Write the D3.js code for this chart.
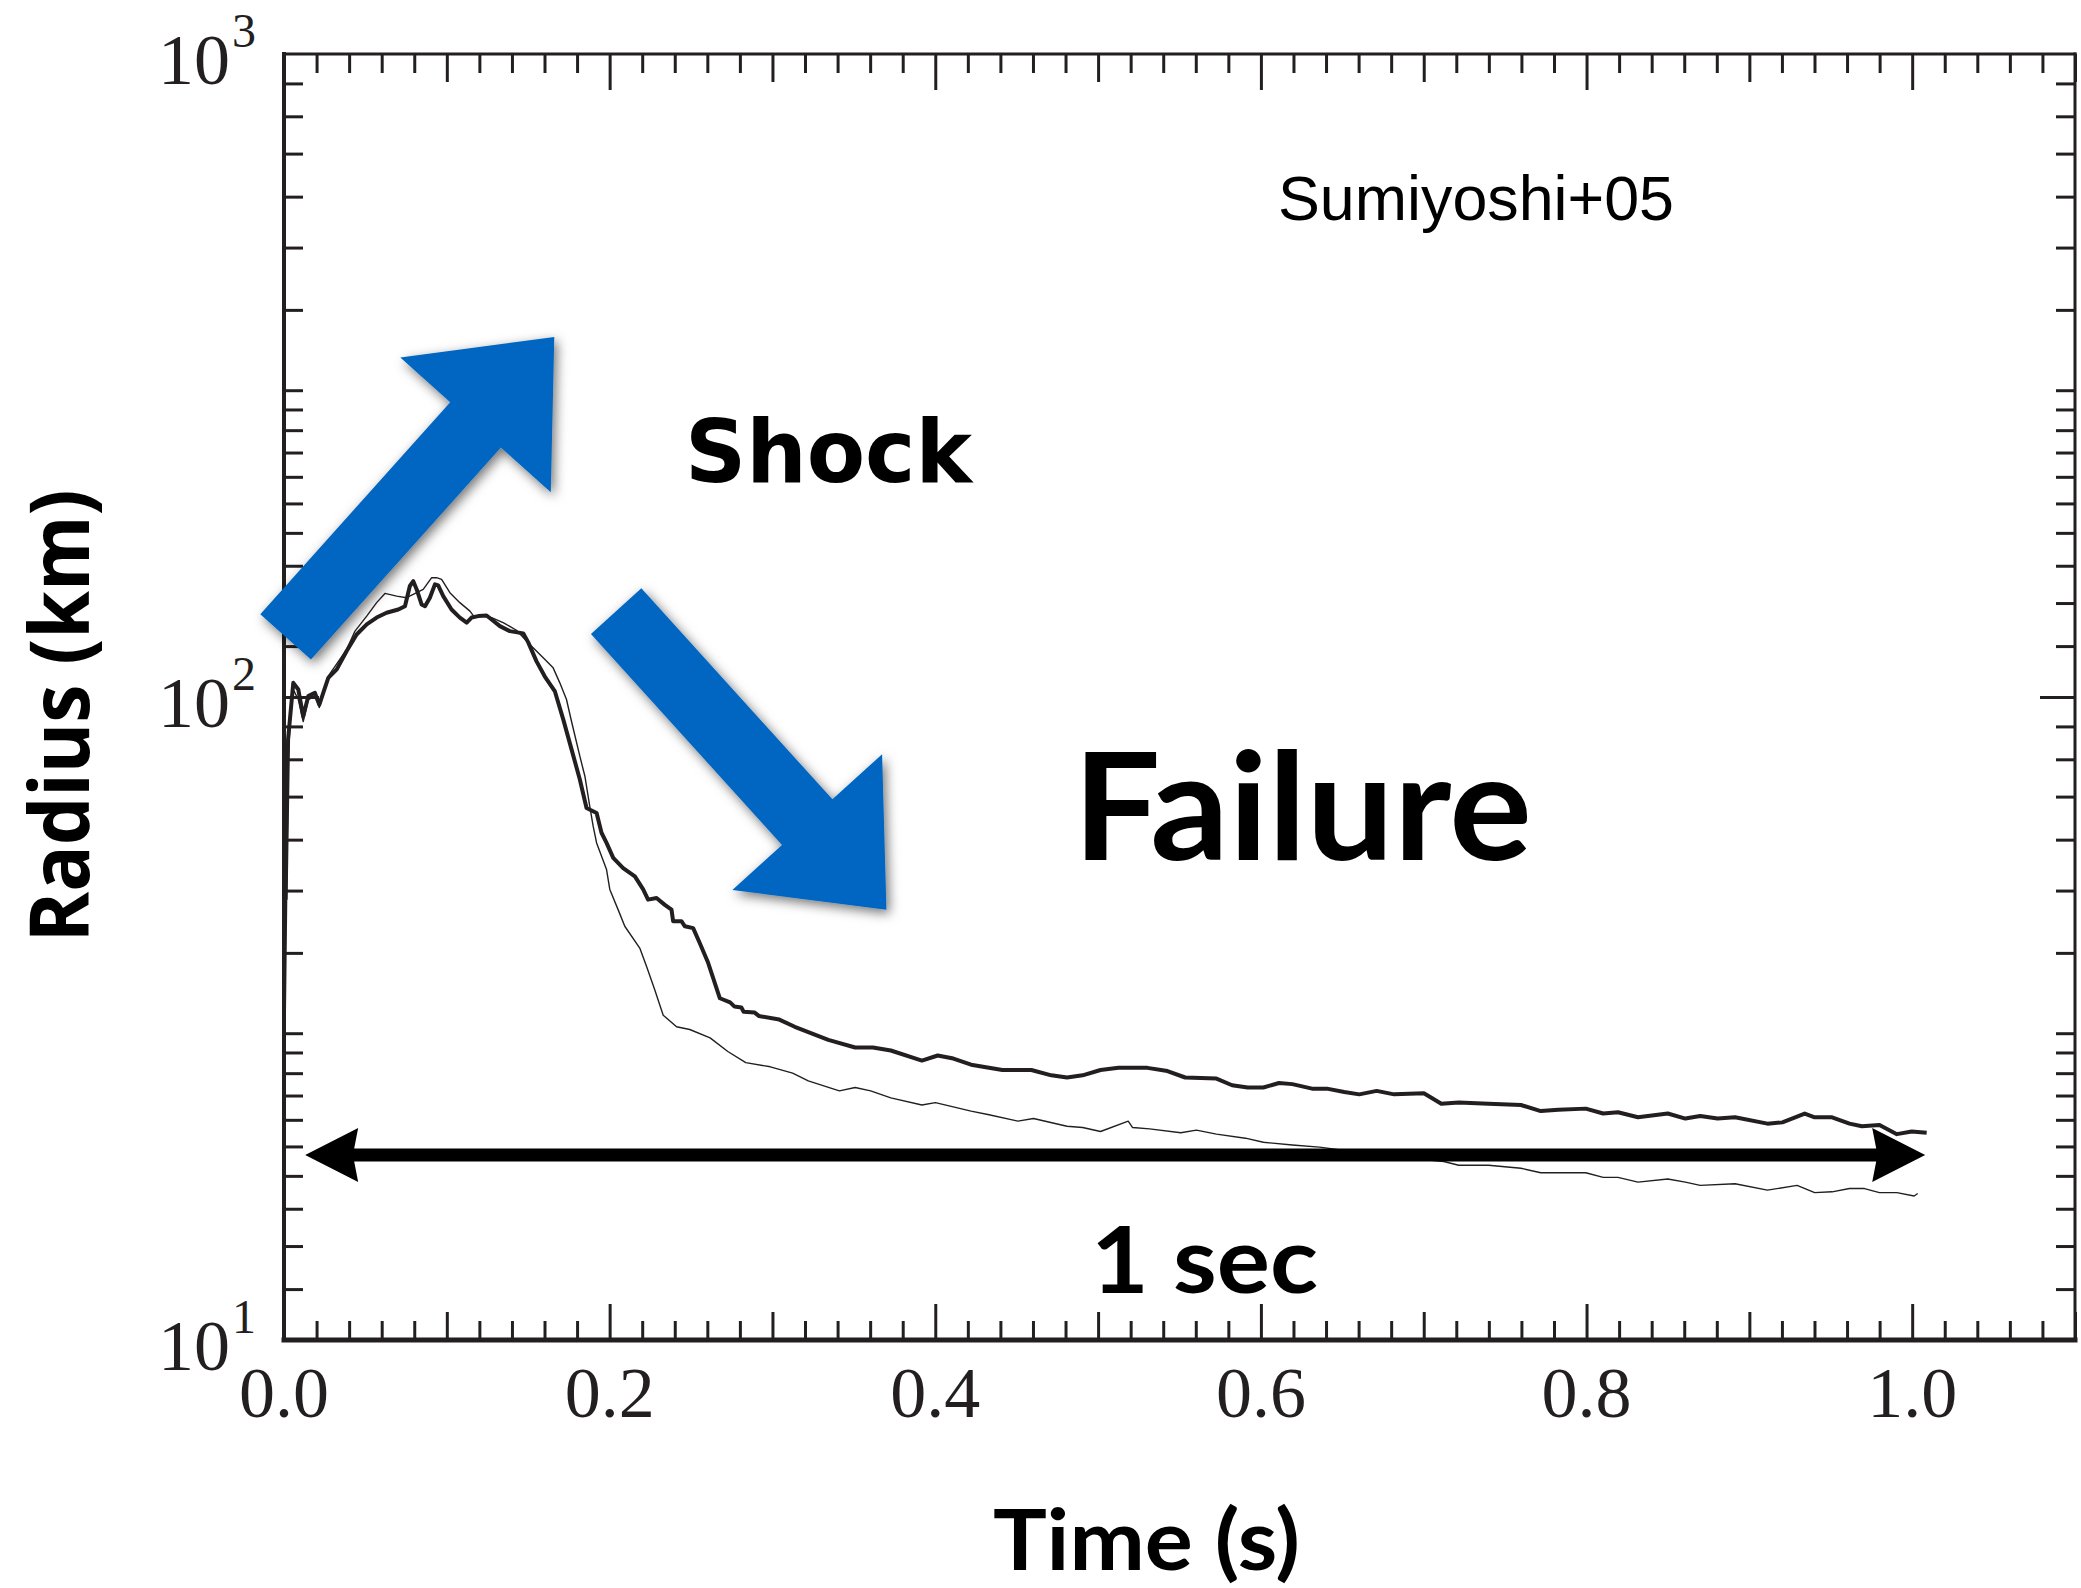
<!DOCTYPE html>
<html>
<head>
<meta charset="utf-8">
<script src="https://cdn.jsdelivr.net/npm/d3@7"></script>
<style>
  html, body { margin: 0; padding: 0; background: #fff; }
  svg { display: block; }
</style>
</head>
<body>
<svg id="chart" width="2081" height="1588"></svg>
<script>
// [time (s), radius (km)]
const thickSeries = [
  [0.001,48.4],[0.0025,85.9],[0.0057,105.2],[0.0088,102.7],[0.0118,93.3],[0.0149,100.3],[0.019,101.5],
  [0.0217,97.3],[0.0241,101.5],[0.0272,107.1],[0.0324,110.4],[0.0385,117.9],[0.0446,125.1],[0.0508,129.7],
  [0.0569,132.9],[0.063,135.2],[0.0702,136.8],[0.0743,138.4],[0.0773,148.8],[0.0794,151.4],[0.0815,147.0],
  [0.0845,139.3],[0.0866,138.4],[0.0896,142.7],[0.0927,149.7],[0.0947,149.1],[0.0978,143.5],[0.1029,136.8],
  [0.108,132.9],[0.1122,130.5],[0.1152,132.9],[0.1193,133.6],[0.1244,133.9],[0.1275,132.0],[0.1326,128.9],
  [0.1387,126.6],[0.1469,125.6],[0.15,121.6],[0.1551,113.6],[0.1602,107.6],[0.1664,102.0],[0.1715,92.3],
  [0.1766,82.9],[0.1817,74.4],[0.1858,67.2],[0.192,66.0],[0.195,61.5],[0.1981,59.3],[0.2022,56.2],
  [0.2083,54.2],[0.2155,52.6],[0.2206,50.2],[0.2236,48.4],[0.2288,48.7],[0.2339,47.5],[0.238,46.7],
  [0.239,44.8],[0.2441,44.8],[0.2462,44.0],[0.2513,43.7],[0.2554,41.4],[0.2605,38.6],[0.2677,34.0],
  [0.274,33.5],[0.2767,33.0],[0.2809,32.9],[0.2823,32.4],[0.2891,32.3],[0.2918,31.9],[0.3042,31.5],
  [0.3137,30.7],[0.3343,29.3],[0.3508,28.5],[0.3617,28.5],[0.3727,28.2],[0.3918,27.2],[0.4015,27.7],
  [0.4111,27.4],[0.422,26.8],[0.4412,26.3],[0.459,26.3],[0.4713,25.8],[0.4809,25.6],[0.4905,25.8],
  [0.5015,26.3],[0.5125,26.5],[0.5303,26.5],[0.5426,26.2],[0.5535,25.6],[0.5727,25.5],[0.5823,24.9],
  [0.5919,24.7],[0.6015,24.7],[0.6111,25.1],[0.6193,25.0],[0.6314,24.6],[0.6405,24.6],[0.6512,24.3],
  [0.6604,24.1],[0.6711,24.4],[0.6818,24.1],[0.7001,24.2],[0.7108,23.3],[0.7215,23.4],[0.7398,23.3],
  [0.7597,23.2],[0.7719,22.7],[0.7827,22.8],[0.7995,22.9],[0.8102,22.5],[0.8193,22.6],[0.8316,22.2],
  [0.8499,22.5],[0.8607,22.1],[0.8698,22.3],[0.8805,22.1],[0.8912,22.2],[0.9111,21.7],[0.9203,21.8],
  [0.934,22.5],[0.9401,22.2],[0.9508,22.2],[0.9615,21.7],[0.9691,21.5],[0.9799,21.6],[0.9906,20.9],
  [0.9997,21.1],[1.0089,21.0]
];

const thinSeries = [
  [0.0006,29.3],[0.0026,80.0],[0.004,94.0],[0.0057,102.7],[0.0088,99.1],[0.0118,91.6],[0.0149,99.1],
  [0.019,100.2],[0.0217,96.3],[0.0241,100.9],[0.0272,107.8],[0.0385,118.6],[0.0436,126.6],[0.0508,133.6],
  [0.0569,140.2],[0.062,144.9],[0.0692,143.5],[0.0753,142.7],[0.0815,145.3],[0.0855,147.0],[0.0907,153.3],
  [0.0937,153.3],[0.0968,152.4],[0.1019,145.3],[0.108,140.2],[0.1142,136.0],[0.1172,132.9],[0.1223,133.6],
  [0.1275,132.9],[0.1346,130.5],[0.1428,127.0],[0.151,120.7],[0.1592,115.1],[0.1653,111.0],[0.1694,105.2],
  [0.1735,99.1],[0.1766,91.6],[0.1817,80.9],[0.1848,75.3],[0.1878,67.6],[0.1899,62.9],[0.192,59.3],
  [0.1981,53.9],[0.2001,50.2],[0.2052,46.7],[0.2093,44.0],[0.2185,40.7],[0.2227,38.1],[0.2278,35.0],
  [0.2329,32.0],[0.2411,30.7],[0.2492,30.4],[0.2617,29.5],[0.2726,28.1],[0.2836,27.0],[0.2987,26.6],
  [0.3124,26.0],[0.322,25.3],[0.3411,24.4],[0.3508,24.7],[0.3603,24.4],[0.3727,23.8],[0.3918,23.2],
  [0.4001,23.4],[0.422,22.7],[0.433,22.4],[0.4508,21.9],[0.4603,22.1],[0.4809,21.5],[0.4905,21.4],
  [0.5015,21.1],[0.5185,21.9],[0.5212,21.4],[0.5316,21.3],[0.5508,21.0],[0.5604,21.2],[0.5727,20.9],
  [0.5905,20.6],[0.6015,20.3],[0.6193,20.1],[0.6359,19.95],[0.6728,19.4],[0.7123,18.95],[0.7215,18.7],
  [0.7398,18.7],[0.7597,18.5],[0.7719,18.2],[0.7827,18.2],[0.7995,18.2],[0.8102,17.9],[0.8193,17.9],
  [0.8316,17.6],[0.8499,17.8],[0.8607,17.6],[0.8698,17.4],[0.8912,17.5],[0.9111,17.1],[0.9293,17.4],
  [0.9401,16.95],[0.9508,17.0],[0.9615,17.2],[0.9707,17.2],[0.9799,16.95],[0.9906,16.95],[1.0012,16.75],
  [1.0034,16.9]
];

// axis ticks
const xLabelValues = [0, 0.2, 0.4, 0.6, 0.8, 1.0];
const xLabels = ["0.0", "0.2", "0.4", "0.6", "0.8", "1.0"];
const xMidTicks = [0.1, 0.3, 0.5, 0.7, 0.9, 1.1];
const yDecades = [10, 100, 1000];
const yExponents = ["1", "2", "3"];
const yMinorTicks = [12, 14, 16, 18, 20, 22, 24, 26, 28, 30, 40, 50, 60, 70, 80, 90,
  120, 140, 160, 180, 200, 220, 240, 260, 280, 300, 400, 500, 600, 700, 800, 900];

// annotation arrows, ends given as [time, radius]
const shockArrow = [[0.001, 124], [0.166, 363]];
const failureArrow = [[0.204, 136], [0.370, 46.7]];
const oneSecArrow = [[0.013, 19.4], [1.008, 19.4]];

const ink = "#231f20";
const blue = "#0266c1";

const svg = d3.select("#chart");
const plotLeft = 284, plotRight = 2075, plotTop = 54, plotBottom = 1340;

const x = d3.scaleLinear().domain([0, 1.1]).range([plotLeft, plotRight]);
const y = d3.scaleLog().domain([10, 1000]).range([plotBottom, plotTop]);

const defs = svg.append("defs");
defs.append("filter").attr("id", "shadow")
    .attr("x", "-20%").attr("y", "-20%").attr("width", "140%").attr("height", "140%")
  .append("feDropShadow")
    .attr("dx", 3).attr("dy", 4).attr("stdDeviation", 6)
    .attr("flood-color", "#000").attr("flood-opacity", 0.55);

// minor x ticks every 0.02 (skip the ones that get longer ticks)
const xMinorTicks = d3.range(1, 56).map(i => +(i * 0.02).toFixed(2))
    .filter(v => Math.abs(v * 10 - Math.round(v * 10)) > 1e-6);

function ticks(axisFn, scale, values, size, transform) {
  svg.append("g")
      .attr("transform", transform)
      .call(axisFn(scale).tickValues(values).tickSize(size).tickSizeOuter(0).tickFormat(""))
      .call(g => g.select(".domain").remove())
      .selectAll("line")
      .attr("stroke", ink)
      .attr("stroke-width", 3);
}

// bottom / top ticks point inward
ticks(d3.axisBottom, x, xMinorTicks, -19, `translate(0,${plotBottom})`);
ticks(d3.axisBottom, x, xMidTicks, -28, `translate(0,${plotBottom})`);
ticks(d3.axisBottom, x, xLabelValues, -36, `translate(0,${plotBottom})`);
ticks(d3.axisTop, x, xMinorTicks, -19, `translate(0,${plotTop})`);
ticks(d3.axisTop, x, xMidTicks, -28, `translate(0,${plotTop})`);
ticks(d3.axisTop, x, xLabelValues, -36, `translate(0,${plotTop})`);

// left / right ticks
ticks(d3.axisLeft, y, yMinorTicks, -19, `translate(${plotLeft},0)`);
ticks(d3.axisLeft, y, [100], -35, `translate(${plotLeft},0)`);
ticks(d3.axisRight, y, yMinorTicks, -19, `translate(${plotRight},0)`);
ticks(d3.axisRight, y, [100], -35, `translate(${plotRight},0)`);

// frame
const frame = svg.append("g").attr("stroke", ink).attr("stroke-linecap", "square");
frame.append("line").attr("x1", plotLeft).attr("x2", plotRight).attr("y1", plotTop).attr("y2", plotTop).attr("stroke-width", 3);
frame.append("line").attr("x1", plotRight).attr("x2", plotRight).attr("y1", plotTop).attr("y2", plotBottom).attr("stroke-width", 3);
frame.append("line").attr("x1", plotLeft).attr("x2", plotLeft).attr("y1", plotTop).attr("y2", plotBottom).attr("stroke-width", 4);
frame.append("line").attr("x1", plotLeft).attr("x2", plotRight).attr("y1", plotBottom).attr("y2", plotBottom).attr("stroke-width", 5);

// tick labels
svg.append("g").selectAll("text").data(xLabelValues).join("text")
    .attr("x", d => x(d))
    .attr("y", 1417)
    .attr("text-anchor", "middle")
    .attr("font-family", "'Liberation Serif', 'Times New Roman', serif")
    .attr("font-size", 72)
    .attr("fill", ink)
    .text((d, i) => xLabels[i]);

const yl = svg.append("g").attr("font-family", "'Liberation Serif', 'Times New Roman', serif").attr("fill", ink);
yl.selectAll("text.base").data(yDecades).join("text")
    .attr("class", "base")
    .attr("x", 230)
    .attr("y", d => y(d) + 30)
    .attr("text-anchor", "end")
    .attr("font-size", 72)
    .text("10");
yl.selectAll("text.exp").data(yDecades).join("text")
    .attr("class", "exp")
    .attr("x", 232)
    .attr("y", d => y(d) - 7)
    .attr("font-size", 48)
    .text((d, i) => yExponents[i]);

// curves
const line = d3.line().x(d => x(d[0])).y(d => y(d[1]));
svg.append("path").datum(thinSeries)
    .attr("d", line).attr("fill", "none")
    .attr("stroke", ink).attr("stroke-width", 1.4).attr("stroke-linejoin", "round");
svg.append("path").datum(thickSeries)
    .attr("d", line).attr("fill", "none")
    .attr("stroke", ink).attr("stroke-width", 4).attr("stroke-linejoin", "round");

// block arrow polygon between two screen points
function blockArrow(p0, p1, shaftHalf, headHalf, headLen) {
  const dx = p1[0] - p0[0], dy = p1[1] - p0[1];
  const len = Math.hypot(dx, dy);
  const ux = dx / len, uy = dy / len, nx = -uy, ny = ux;
  const hx = p1[0] - ux * headLen, hy = p1[1] - uy * headLen;
  return [
    [p0[0] + nx * shaftHalf, p0[1] + ny * shaftHalf],
    [hx + nx * shaftHalf, hy + ny * shaftHalf],
    [hx + nx * headHalf, hy + ny * headHalf],
    p1,
    [hx - nx * headHalf, hy - ny * headHalf],
    [hx - nx * shaftHalf, hy - ny * shaftHalf],
    [p0[0] - nx * shaftHalf, p0[1] - ny * shaftHalf]
  ];
}
const toScreen = p => [x(p[0]), y(p[1])];

[shockArrow, failureArrow].forEach(a => {
  svg.append("polygon")
      .attr("points", blockArrow(toScreen(a[0]), toScreen(a[1]), 34, 101, 118).join(" "))
      .attr("fill", blue)
      .attr("filter", "url(#shadow)");
});

// the "1 sec" double arrow
{
  const a = toScreen(oneSecArrow[0]), b = toScreen(oneSecArrow[1]);
  const hl = 53, hh = 27, sh = 6.5, cy = a[1];
  const pts = [
    [a[0], cy], [a[0] + hl, cy - hh], [a[0] + hl - 4, cy - sh], [b[0] - hl + 4, cy - sh],
    [b[0] - hl, cy - hh], [b[0], cy], [b[0] - hl, cy + hh], [b[0] - hl + 4, cy + sh],
    [a[0] + hl - 4, cy + sh], [a[0] + hl, cy + hh]
  ];
  svg.append("polygon").attr("points", pts.join(" ")).attr("fill", "#000");
}

// text, fitted to the widths seen in the figure
function label(txt, x0, base, family, size, weight, len, rotate) {
  const t = svg.append("text")
      .attr("font-family", family)
      .attr("font-size", size)
      .attr("font-weight", weight)
      .attr("fill", "#000")
      .text(txt);
  if (rotate) {
    t.attr("text-anchor", "middle")
     .attr("transform", `translate(${x0},${base}) rotate(-90)`);
  } else {
    t.attr("x", x0).attr("y", base);
  }
  if (len) t.attr("textLength", len).attr("lengthAdjust", "spacingAndGlyphs");
  return t;
}

label("Sumiyoshi+05", 1278, 220, "'Liberation Sans', Arial, sans-serif", 63, 400, 396);
label("Shock", 685, 482, "'DejaVu Sans', Verdana, sans-serif", 88, 700, 287);
label("Failure", 1073, 860, "Lato, 'Open Sans', sans-serif", 149, 700, 459);
label("1 sec", 1091, 1293, "Lato, 'Open Sans', sans-serif", 92, 700, 227);
label("Time (s)", 993, 1570, "Lato, 'Open Sans', sans-serif", 84, 700, 307);
label("Radius (km)", 89, 716, "'Open Sans', sans-serif", 83, 700, 453, true);
</script>
</body>
</html>
